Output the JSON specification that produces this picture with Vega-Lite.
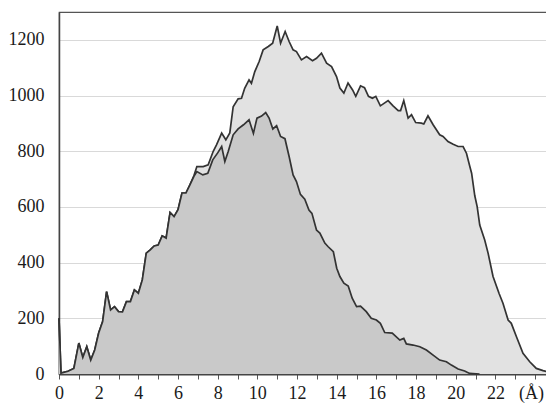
{
  "$schema": "https://vega.github.io/schema/vega-lite/v6.json",
  "width": 488,
  "height": 362,
  "autosize": "none",
  "padding": {"left": 59, "top": 12, "right": 0, "bottom": 30},
  "background": "white",
  "config": {
    "font": "Liberation Serif",
    "view": {"stroke": "#555555", "strokeWidth": 1.2},
    "axis": {"labelFont": "Liberation Serif", "labelFontSize": 18, "labelColor": "#1a1a1a"}
  },
  "datasets": {
    "inner": [
      {"x": 0, "y": 200}, {"x": 0.1, "y": 3}, {"x": 0.45, "y": 10}, {"x": 0.75, "y": 20},
      {"x": 1.0, "y": 111}, {"x": 1.2, "y": 59}, {"x": 1.4, "y": 98}, {"x": 1.6, "y": 50},
      {"x": 1.8, "y": 86}, {"x": 2.0, "y": 147}, {"x": 2.2, "y": 188}, {"x": 2.4, "y": 296},
      {"x": 2.6, "y": 230}, {"x": 2.8, "y": 242}, {"x": 3.0, "y": 224}, {"x": 3.2, "y": 223},
      {"x": 3.4, "y": 260}, {"x": 3.6, "y": 260}, {"x": 3.8, "y": 302}, {"x": 4.0, "y": 290},
      {"x": 4.2, "y": 338}, {"x": 4.4, "y": 434}, {"x": 4.6, "y": 446}, {"x": 4.8, "y": 460},
      {"x": 5.0, "y": 463}, {"x": 5.2, "y": 496}, {"x": 5.4, "y": 488}, {"x": 5.6, "y": 580},
      {"x": 5.8, "y": 565}, {"x": 6.0, "y": 590}, {"x": 6.2, "y": 650}, {"x": 6.4, "y": 650},
      {"x": 6.6, "y": 679}, {"x": 6.8, "y": 710}, {"x": 6.95, "y": 727}, {"x": 7.25, "y": 715},
      {"x": 7.5, "y": 721}, {"x": 7.75, "y": 769}, {"x": 8.0, "y": 794}, {"x": 8.2, "y": 817},
      {"x": 8.36, "y": 763}, {"x": 8.53, "y": 799}, {"x": 8.78, "y": 859}, {"x": 9.03, "y": 880},
      {"x": 9.3, "y": 895}, {"x": 9.58, "y": 913}, {"x": 9.8, "y": 864}, {"x": 9.98, "y": 919},
      {"x": 10.21, "y": 926}, {"x": 10.42, "y": 939}, {"x": 10.59, "y": 919}, {"x": 10.78, "y": 880},
      {"x": 10.97, "y": 892}, {"x": 11.17, "y": 853}, {"x": 11.39, "y": 845}, {"x": 11.6, "y": 781},
      {"x": 11.8, "y": 715}, {"x": 11.97, "y": 691}, {"x": 12.17, "y": 645}, {"x": 12.39, "y": 628},
      {"x": 12.6, "y": 589}, {"x": 12.75, "y": 577}, {"x": 12.98, "y": 517}, {"x": 13.15, "y": 506},
      {"x": 13.4, "y": 470}, {"x": 13.57, "y": 457}, {"x": 13.83, "y": 439}, {"x": 14.0, "y": 380},
      {"x": 14.16, "y": 350}, {"x": 14.36, "y": 326}, {"x": 14.58, "y": 316}, {"x": 14.78, "y": 272},
      {"x": 15.0, "y": 242}, {"x": 15.2, "y": 244}, {"x": 15.49, "y": 224}, {"x": 15.74, "y": 200},
      {"x": 16.0, "y": 194}, {"x": 16.2, "y": 182}, {"x": 16.42, "y": 149}, {"x": 16.8, "y": 147},
      {"x": 17.18, "y": 122}, {"x": 17.38, "y": 128}, {"x": 17.51, "y": 108}, {"x": 17.85, "y": 104},
      {"x": 18.19, "y": 98}, {"x": 18.52, "y": 86}, {"x": 18.86, "y": 68}, {"x": 19.19, "y": 50},
      {"x": 19.53, "y": 44}, {"x": 19.78, "y": 32}, {"x": 20.12, "y": 18}, {"x": 20.45, "y": 11},
      {"x": 20.7, "y": 2}, {"x": 21.2, "y": 0}
    ],
    "outer": [
      {"x": 0, "y": 200}, {"x": 0.1, "y": 3}, {"x": 0.45, "y": 10}, {"x": 0.75, "y": 20},
      {"x": 1.0, "y": 111}, {"x": 1.2, "y": 59}, {"x": 1.4, "y": 98}, {"x": 1.6, "y": 50},
      {"x": 1.8, "y": 86}, {"x": 2.0, "y": 147}, {"x": 2.2, "y": 188}, {"x": 2.4, "y": 296},
      {"x": 2.6, "y": 230}, {"x": 2.8, "y": 242}, {"x": 3.0, "y": 224}, {"x": 3.2, "y": 223},
      {"x": 3.4, "y": 260}, {"x": 3.6, "y": 260}, {"x": 3.8, "y": 302}, {"x": 4.0, "y": 290},
      {"x": 4.2, "y": 338}, {"x": 4.4, "y": 434}, {"x": 4.6, "y": 446}, {"x": 4.8, "y": 460},
      {"x": 5.0, "y": 463}, {"x": 5.2, "y": 496}, {"x": 5.4, "y": 488}, {"x": 5.6, "y": 580},
      {"x": 5.8, "y": 565}, {"x": 6.0, "y": 590}, {"x": 6.2, "y": 650}, {"x": 6.4, "y": 650},
      {"x": 6.6, "y": 679}, {"x": 6.8, "y": 712}, {"x": 6.95, "y": 745}, {"x": 7.27, "y": 745},
      {"x": 7.52, "y": 751}, {"x": 7.77, "y": 799}, {"x": 7.94, "y": 823}, {"x": 8.2, "y": 865},
      {"x": 8.41, "y": 841}, {"x": 8.61, "y": 866}, {"x": 8.78, "y": 960}, {"x": 9.03, "y": 988},
      {"x": 9.2, "y": 990}, {"x": 9.36, "y": 1026}, {"x": 9.58, "y": 1056}, {"x": 9.7, "y": 1044},
      {"x": 9.87, "y": 1086}, {"x": 10.09, "y": 1122}, {"x": 10.29, "y": 1164}, {"x": 10.55, "y": 1176},
      {"x": 10.77, "y": 1188}, {"x": 11.0, "y": 1250}, {"x": 11.17, "y": 1188}, {"x": 11.4, "y": 1230},
      {"x": 11.6, "y": 1194}, {"x": 11.8, "y": 1164}, {"x": 11.97, "y": 1158}, {"x": 12.22, "y": 1128},
      {"x": 12.48, "y": 1140}, {"x": 12.78, "y": 1125}, {"x": 12.98, "y": 1134}, {"x": 13.23, "y": 1152},
      {"x": 13.49, "y": 1116}, {"x": 13.74, "y": 1104}, {"x": 13.99, "y": 1068}, {"x": 14.16, "y": 1027},
      {"x": 14.36, "y": 1009}, {"x": 14.57, "y": 1045}, {"x": 14.8, "y": 1020}, {"x": 14.96, "y": 997},
      {"x": 15.2, "y": 1035}, {"x": 15.4, "y": 1028}, {"x": 15.6, "y": 997}, {"x": 15.8, "y": 990},
      {"x": 15.97, "y": 997}, {"x": 16.2, "y": 963}, {"x": 16.59, "y": 982}, {"x": 16.84, "y": 963},
      {"x": 17.1, "y": 946}, {"x": 17.22, "y": 946}, {"x": 17.38, "y": 982}, {"x": 17.6, "y": 919},
      {"x": 17.77, "y": 931}, {"x": 17.98, "y": 903}, {"x": 18.27, "y": 901}, {"x": 18.39, "y": 898},
      {"x": 18.6, "y": 927}, {"x": 18.86, "y": 895}, {"x": 19.19, "y": 859}, {"x": 19.36, "y": 853},
      {"x": 19.61, "y": 835}, {"x": 19.87, "y": 825}, {"x": 20.12, "y": 817}, {"x": 20.37, "y": 817},
      {"x": 20.54, "y": 793}, {"x": 20.71, "y": 745}, {"x": 20.8, "y": 721}, {"x": 20.96, "y": 640},
      {"x": 21.08, "y": 601}, {"x": 21.21, "y": 535}, {"x": 21.46, "y": 481}, {"x": 21.63, "y": 434},
      {"x": 21.88, "y": 350}, {"x": 22.18, "y": 290}, {"x": 22.38, "y": 254}, {"x": 22.64, "y": 194},
      {"x": 22.8, "y": 182}, {"x": 23.06, "y": 134}, {"x": 23.39, "y": 74}, {"x": 23.73, "y": 44},
      {"x": 24.06, "y": 20}, {"x": 24.4, "y": 12}, {"x": 24.6, "y": 8}
    ]
  },
  "encoding": {
    "x": {
      "field": "x", "type": "quantitative",
      "scale": {"domain": [0, 24.6], "nice": false, "zero": false},
      "axis": {
        "title": null, "values": [0,1,2,3,4,5,6,7,8,9,10,11,12,13,14,15,16,17,18,19,20,21,22,23,24],
        "labelExpr": "datum.value == 24 ? '(Å)' : (datum.value % 2 == 0 ? datum.label : '')",
        "labelOffset": {"condition": {"test": "datum.value == 24", "value": -4}, "value": 0},
        "grid": false, "domainColor": "#444444", "domainWidth": 2,
        "tickColor": "#555555", "tickSize": 5, "tickWidth": 1,
        "labelPadding": 5, "labelFlush": false, "labelOverlap": false
      }
    },
    "y": {
      "field": "y", "type": "quantitative",
      "scale": {"domain": [0, 1300], "nice": false},
      "axis": {
        "title": null, "values": [0, 200, 400, 600, 800, 1000, 1200], "format": "d",
        "grid": true, "gridColor": "#d9d9d9", "gridWidth": 1,
        "domainColor": "#444444", "domainWidth": 1.5,
        "ticks": false, "labelPadding": 15
      }
    }
  },
  "layer": [
    {
      "data": {"name": "outer"},
      "mark": {"type": "area", "color": "#e2e2e2", "opacity": 1,
               "line": {"color": "#333333", "strokeWidth": 1.7}}
    },
    {
      "data": {"name": "inner"},
      "mark": {"type": "area", "color": "#c9c9c9", "opacity": 1,
               "line": {"color": "#333333", "strokeWidth": 1.7}}
    }
  ]
}
